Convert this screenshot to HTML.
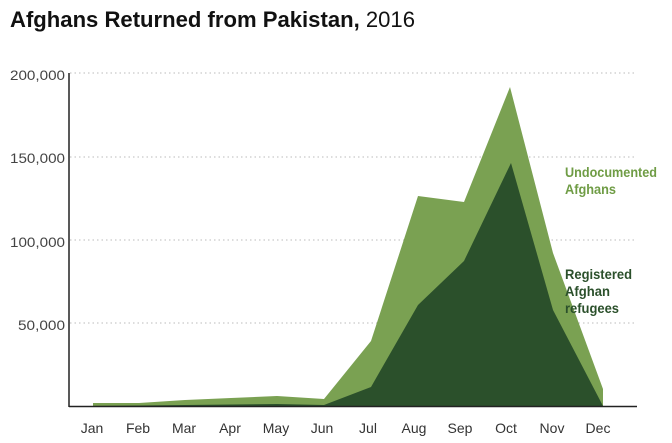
<!DOCTYPE html>
<html><head><meta charset="utf-8"><style>
html,body{margin:0;padding:0;background:#fff;}
svg{display:block;font-family:"Liberation Sans",sans-serif;}
</style></head><body>
<svg width="672" height="443" viewBox="0 0 672 443" xmlns="http://www.w3.org/2000/svg">
<text x="10" y="27" font-size="22" fill="#111" textLength="405" lengthAdjust="spacingAndGlyphs"><tspan font-weight="bold">Afghans Returned from Pakistan,</tspan> 2016</text>
<g stroke="#bbb" stroke-width="1" stroke-dasharray="1.5,3">
<line x1="70" y1="73" x2="636" y2="73"/>
<line x1="70" y1="157" x2="636" y2="157"/>
<line x1="70" y1="240" x2="636" y2="240"/>
<line x1="70" y1="323" x2="636" y2="323"/>
</g>
<g font-size="14" fill="#444" text-anchor="end">
<text x="65" y="80" textLength="55" lengthAdjust="spacingAndGlyphs">200,000</text>
<text x="65" y="163" textLength="55" lengthAdjust="spacingAndGlyphs">150,000</text>
<text x="65" y="247" textLength="55" lengthAdjust="spacingAndGlyphs">100,000</text>
<text x="65" y="330" textLength="47" lengthAdjust="spacingAndGlyphs">50,000</text>
</g>
<polygon fill="#7aa152" points="93,406 93,403 139,403 185,400 231,398 277,396 324,399 371,341 418,196 464,202 510,87 553,253 603,389 603,406"/>
<polygon fill="#2b502b" points="93,406 277,404 324,405 371,387 418,305 464,261 511,163 553,310 603,406"/>
<line x1="69" y1="73" x2="69" y2="407" stroke="#222" stroke-width="1.5"/>
<line x1="69" y1="406.5" x2="637" y2="406.5" stroke="#222" stroke-width="1.5"/>
<g font-size="14" fill="#333" text-anchor="middle">
<text x="92" y="433">Jan</text><text x="138" y="433">Feb</text><text x="184" y="433">Mar</text>
<text x="230" y="433">Apr</text><text x="276" y="433">May</text><text x="322" y="433">Jun</text>
<text x="368" y="433">Jul</text><text x="414" y="433">Aug</text><text x="460" y="433">Sep</text>
<text x="506" y="433">Oct</text><text x="552" y="433">Nov</text><text x="598" y="433">Dec</text>
</g>
<g font-size="14" font-weight="bold" fill="#6f9c45">
<text x="565" y="177" textLength="92" lengthAdjust="spacingAndGlyphs">Undocumented</text><text x="565" y="194" textLength="51" lengthAdjust="spacingAndGlyphs">Afghans</text>
</g>
<g font-size="14" font-weight="bold" fill="#2b502b">
<text x="565" y="279" textLength="67" lengthAdjust="spacingAndGlyphs">Registered</text><text x="565" y="296" textLength="45" lengthAdjust="spacingAndGlyphs">Afghan</text><text x="565" y="313" textLength="54" lengthAdjust="spacingAndGlyphs">refugees</text>
</g>
</svg>
</body></html>
